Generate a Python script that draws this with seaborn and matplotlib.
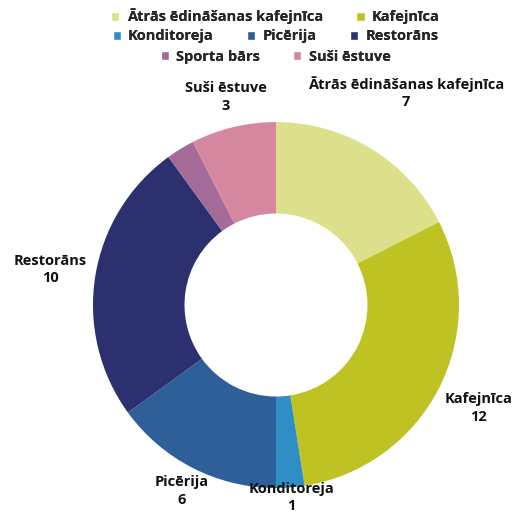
import numpy as np
import matplotlib
matplotlib.use('Agg')
import matplotlib.pyplot as plt
from matplotlib.patches import Patch
import seaborn as sns

categories = ['Ātrās ēdināšanas kafejnīca', 'Kafejnīca', 'Konditoreja', 'Picērija',
              'Restorāns', 'Sporta bārs', 'Suši ēstuve']
counts = [7, 12, 1, 6, 10, 1, 3]
colors = ['#dde08a', '#bfc223', '#2f8ec3', '#2e5f98', '#2d306e', '#a46a98', '#d4879e']

# label distance per slice (in pie radii); Sporta bārs label is hidden in the original
label_dist = [1.36, 1.24, 1.055, 1.14, 1.25, None, 1.17]

sns.set_theme(style='white')
plt.rcParams['font.family'] = ['Open Sans', 'DejaVu Sans']
palette = sns.color_palette(colors)

fig = plt.figure(figsize=(5.15, 5.14), dpi=100)
ax = fig.add_axes([0, 0, 1, 1])

wedges, _ = ax.pie(counts, colors=palette, startangle=90, counterclock=False,
                   radius=1.0, wedgeprops=dict(width=0.5, linewidth=0))

for w, cat, n, d in zip(wedges, categories, counts, label_dist):
    if d is None:
        continue
    ang = np.deg2rad((w.theta1 + w.theta2) / 2)
    x, y = d * np.cos(ang), d * np.sin(ang)
    ax.text(x, y, f'{cat}\n{n}', ha='center', va='center', fontsize=10.5,
            fontweight='bold', color='#111111', linespacing=1.3)

ax.set_xlim(-1.508, 1.306)
ax.set_ylim(-1.142, 1.667)
ax.axis('off')

# legend in three centred rows like the original
rows = [[0, 1], [2, 3, 4], [5, 6]]
row_y = [0.968, 0.929, 0.890]
for idx, yy in zip(rows, row_y):
    handles = [Patch(facecolor=palette[i], label=categories[i]) for i in idx]
    leg = fig.legend(handles=handles, loc='center', bbox_to_anchor=(0.535, yy),
                     ncol=len(idx), frameon=False, handlelength=0.55, handleheight=0.55,
                     handletextpad=0.5, columnspacing=2.3, borderpad=0,
                     prop=dict(family=['Open Sans', 'DejaVu Sans'], weight='bold', size=10.5))
    fig.add_artist(leg)

fig.savefig('out.png', dpi=100)
